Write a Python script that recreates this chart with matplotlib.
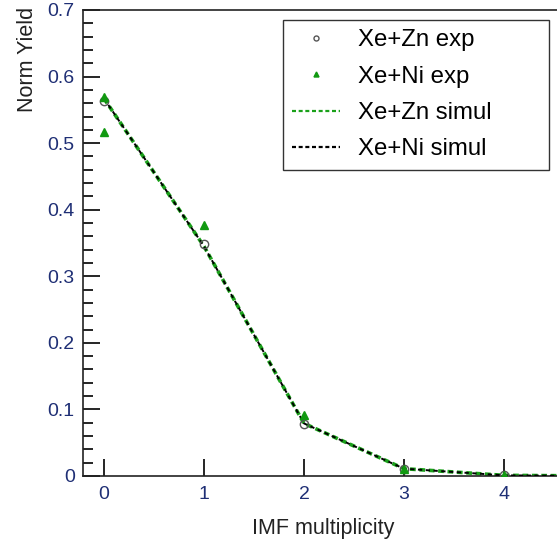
import matplotlib
matplotlib.use("Agg")
import matplotlib.pyplot as plt
from matplotlib.ticker import MultipleLocator

plt.rcParams['font.family'] = ['Liberation Sans', 'DejaVu Sans']

# data
zn_exp_x = [0, 1, 2, 3, 4]
zn_exp_y = [0.564, 0.349, 0.078, 0.010, 0.001]
ni_exp_x = [0, 0, 1, 2, 3, 4]
ni_exp_y = [0.517, 0.569, 0.377, 0.092, 0.011, 0.001]
sim_x = [0, 1, 2, 3, 4, 5]
zn_sim_y = [0.567, 0.345, 0.079, 0.011, 0.001, 0.0]
ni_sim_y = [0.567, 0.345, 0.079, 0.011, 0.001, 0.0]
x_ticks = [0, 1, 2, 3, 4]
y_ticks = [0, 0.1, 0.2, 0.3, 0.4, 0.5, 0.6, 0.7]
y_tick_labels = ['0', '0.1', '0.2', '0.3', '0.4', '0.5', '0.6', '0.7']

W, H = 557, 546
fig = plt.figure(figsize=(W / 100, H / 100), dpi=100)
ax_w = (W - 83) / W + 0.01
ax = fig.add_axes([83 / W, 1 - 476 / H, ax_w, (476 - 10) / H])
ax_w_px = ax_w * W

ax.plot(sim_x, zn_sim_y, color='#1aa01a', lw=2.6, ls=(0, (1.6, 1.0)), label='Xe+Zn simul', zorder=2)
ax.plot(sim_x, ni_sim_y, color='black', lw=1.4, ls=(0, (2.2, 1.8)), label='Xe+Ni simul', zorder=3)
ax.plot(zn_exp_x, zn_exp_y, ls='none', marker='o', ms=6, mfc='none', mec='#555555', mew=1.0,
        label='Xe+Zn exp', zorder=4)
ax.plot(ni_exp_x, ni_exp_y, ls='none', marker='^', ms=6, color='#119911', label='Xe+Ni exp', zorder=4)

ax.set_xlim(-0.21, -0.21 + ax_w_px / 100)
ax.set_ylim(0, 0.7)
ax.set_xticks(x_ticks)
ax.set_yticks(y_ticks)
ax.set_yticklabels(y_tick_labels)
ax.yaxis.set_minor_locator(MultipleLocator(0.02))
ax.tick_params(axis='both', which='major', direction='in', length=12, width=1.2,
               labelsize=14, labelcolor='#1f2f75', pad=6)
ax.tick_params(axis='y', which='minor', direction='in', length=7, width=1.2)
ax.tick_params(axis='x', which='major', pad=7.5)
ax.spines['right'].set_visible(False)
for s in ['left', 'bottom', 'top']:
    ax.spines[s].set_linewidth(1.2)
    ax.spines[s].set_color('#222222')

ax.set_xlabel('IMF multiplicity', fontsize=15.5, color='#222222', labelpad=10.5)
ax.set_ylabel('Norm Yield', fontsize=15.5, color='#222222')
ax.yaxis.set_label_coords(-0.094, 0.893)

handles, labels = ax.get_legend_handles_labels()
order = [2, 3, 0, 1]
lh = [handles[i] for i in order]
x0 = (283 - 83) / ax_w_px
x1 = (549 - 83) / ax_w_px
leg = ax.legend(lh, [labels[i] for i in order],
                loc='upper left', bbox_to_anchor=(x0, 1 - 10 / 466, x1 - x0, 0.0),
                mode='expand',
                fontsize=17.3, frameon=True, fancybox=False, edgecolor='black',
                handlelength=2.0, handletextpad=0.75, markerscale=0.6, labelspacing=0.6,
                borderpad=0.38, borderaxespad=0)
leg.get_frame().set_linewidth(1.0)
for line in leg.get_lines()[2:]:
    line.set_linewidth(1.6)
    line.set_dashes((1.8, 1.2))

fig.savefig('out.png', dpi=100)
